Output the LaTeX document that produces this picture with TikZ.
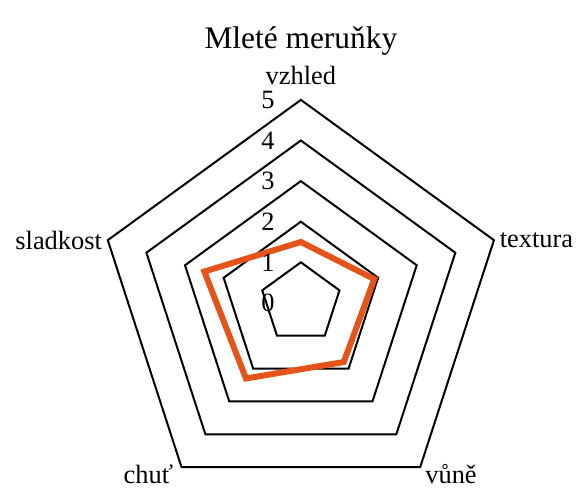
\documentclass[tikz,border=0pt]{standalone}
\usepackage{fontspec}
\setmainfont{Liberation Serif}
\usepackage{xcolor}
\usetikzlibrary{positioning}
\definecolor{apricot}{RGB}{228,84,26}

\begin{document}
\begin{tikzpicture}[ring/.style={draw=black, line width=1.4pt},
                    series/.style={draw=apricot, line width=4.2pt},
                    lbl/.style={font=\fontsize{18.5}{22}\selectfont}]
            \useasboundingbox (-7.41,-4.58) rectangle (6.85,7.46);
            % \tikzstyle{every node}=[lbl]
            \foreach \r in {1,...,5}
                \draw[ring] (90:\r) -- (18:\r) -- (-54:\r) -- (-126:\r) -- (162:\r) -- cycle;

            \coordinate (v1) at (90:5);
            \coordinate (v2) at (18:5);
            \coordinate (v3) at (-54:5);
            \coordinate (v4) at (-126:5);
            \coordinate (v5) at (162:5);

            \foreach \a/\v [count=\i] in {90/1.5, 18/1.9, -54/1.8, -126/2.3, 162/2.5}
                \coordinate (d\i) at (\a:\v);
            \draw[series] (d1) -- (d2) -- (d3) -- (d4) -- (d5) -- cycle;

            \foreach \v in {0,...,5}
                \node[lbl, anchor=east, inner sep=0pt] (n\v) at (-0.64,\v) {\v};

            \node[lbl] (vzhled) [above = 0.26cm of v1] {vzhled};
            \node[lbl] (textura) [right = 0.02cm of v2] {textura};
            \node[lbl] (sladkost) [left = 0.02cm of v5] {sladkost};
            \node[lbl, anchor=base west, inner sep=0pt] (vune) at ([shift={(0.12,-0.4)}]v3) {vůně};
            \node[lbl, anchor=base east, inner sep=0pt] (chut) at ([shift={(-0.2,-0.4)}]v4) {chuť};
            \node[font=\fontsize{22}{26}\selectfont] (title) [above = 0.02cm of vzhled] {Mleté meruňky};
        \end{tikzpicture}
\end{document}
